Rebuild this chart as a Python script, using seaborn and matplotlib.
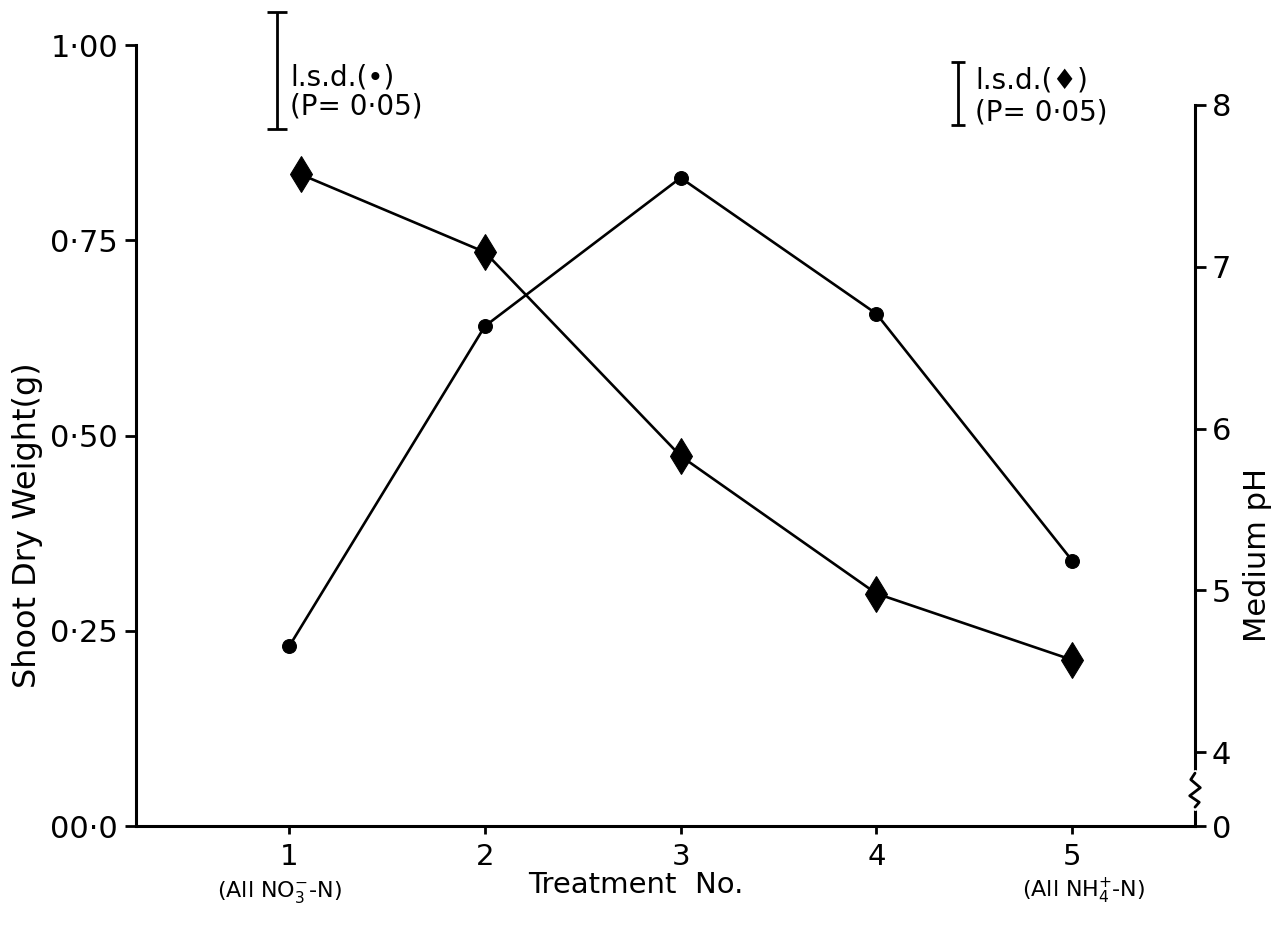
import matplotlib
matplotlib.use("Agg")
import matplotlib.pyplot as plt
import matplotlib.transforms as mtransforms
import seaborn as sns
import pandas as pd

# Treatment numbers and measured responses
treatments = [1, 2, 3, 4, 5]
shoot_weight = [0.23, 0.64, 0.83, 0.656, 0.34]          # g, circles, left axis
ph_treatment = [1.06, 2, 3, 4, 5]                       # diamond positions
medium_ph = [7.57, 7.09, 5.83, 4.98, 4.57]              # pH, diamonds, right axis

weight_ticks = [0, 0.25, 0.5, 0.75, 1.0]
weight_ticklabels = ["00·0", "0·25", "0·50", "0·75", "1·00"]
ph_ticks = [4, 5, 6, 7, 8]
ph_ticklabels = ["4", "5", "6", "7", "8"]

# Least significant differences (P = 0.05)
lsd_weight = 0.15
lsd_ph = 0.39

sns.set_theme(style="white")
plt.rcParams["font.family"] = ["DejaVu Sans"]
plt.rcParams["mathtext.default"] = "regular"

fig = plt.figure(figsize=(12.8, 9.46), dpi=100)
fig.patch.set_facecolor("white")
ax = fig.add_axes([0.1063, 0.1268, 0.8273, 0.8256])
ax2 = ax.twinx()

weight_df = pd.DataFrame({"treatment": treatments, "weight": shoot_weight})
ph_df = pd.DataFrame({"treatment": ph_treatment, "ph": medium_ph})

sns.lineplot(data=weight_df, x="treatment", y="weight", ax=ax, color="black",
             linewidth=1.9, marker="o", markersize=10, markeredgecolor="black")
sns.lineplot(data=ph_df, x="treatment", y="ph", ax=ax2, color="black",
             linewidth=1.9, marker="d", markersize=18, markeredgecolor="black")

ax.set_xlim(0.218, 5.628)
ax.set_ylim(0, 1.0)
ph_bottom = 3.543
ax2.set_ylim(ph_bottom, 8.37)

# Spines
for a in (ax, ax2):
    a.set_facecolor("none")
    a.spines["top"].set_visible(False)
ax.spines["right"].set_visible(False)
ax2.spines["left"].set_visible(False)
ax2.spines["bottom"].set_visible(False)
for sp in (ax.spines["left"], ax.spines["bottom"], ax2.spines["right"]):
    sp.set_linewidth(2.2)
    sp.set_color("black")
ax.spines["left"].set_bounds(0, 1.0)
ax2.spines["right"].set_bounds(ph_bottom, 8)

# Ticks
ax.set_xticks(treatments)
ax.set_xticklabels([str(t) for t in treatments], fontsize=21)
ax.set_yticks(weight_ticks)
ax.set_yticklabels(weight_ticklabels, fontsize=22)
ax.tick_params(axis="x", bottom=True, direction="out", length=6, width=2, pad=6,
               colors="black")
ax.tick_params(axis="y", left=True, direction="out", length=8, width=2, pad=5,
               colors="black")

ax2.set_yticks([ph_bottom] + ph_ticks)
ax2.set_yticklabels(["0"] + ph_ticklabels, fontsize=22)
ax2.tick_params(axis="y", right=True, direction="out", length=8, width=2, pad=4,
                colors="black")

# Axis break on the pH scale
brk = mtransforms.blended_transform_factory(ax2.transAxes, ax2.transData)
ax2.plot([1, 1], [3.66, 3.87], transform=brk, color="white", linewidth=5,
         clip_on=False, zorder=5)
ax2.plot([1, 0.996, 1.005, 0.995, 1.004, 1],
         [3.87, 3.83, 3.78, 3.73, 3.69, 3.66],
         transform=brk, color="black", linewidth=2, clip_on=False, zorder=6)

# Axis labels
ax.set_ylabel("Shoot Dry Weight(g)", fontsize=23, color="black")
ax.yaxis.set_label_coords(-0.088, 0.385)
ax.set_xlabel("Treatment  No.", fontsize=21, color="black")
ax.xaxis.set_label_coords(0.472, -0.058)
ax2.set_ylabel("Medium pH", fontsize=22, color="black", rotation=90)
ax2.yaxis.set_label_coords(1.045, 0.347)

# Nitrogen source notes below the end treatments
note = mtransforms.blended_transform_factory(ax.transData, ax.transAxes)
ax.text(0.95, -0.084, r"(All NO$_3^{-}$-N)", transform=note, ha="center",
        va="center", fontsize=16, color="black")
ax.text(5.06, -0.084, r"(All NH$_4^{+}$-N)", transform=note, ha="center",
        va="center", fontsize=16, color="black")

# l.s.d. bars
eb1 = ax.errorbar(0.939, 0.967, yerr=lsd_weight / 2, fmt="none", ecolor="black",
                  elinewidth=2, capsize=7, capthick=2)
eb2 = ax2.errorbar(4.418, 8.07, yerr=lsd_ph / 2, fmt="none", ecolor="black",
                   elinewidth=2, capsize=5, capthick=2)
for eb in (eb1, eb2):
    for art in list(eb.lines[1]) + list(eb.lines[2]):
        art.set_clip_on(False)

ax.text(1.005, 0.958, "l.s.d.(•)", fontsize=20, ha="left", va="center",
        color="black", clip_on=False)
ax.text(1.005, 0.921, "(P= 0·05)", fontsize=20, ha="left", va="center",
        color="black", clip_on=False)
ax2.text(4.505, 8.15, "l.s.d.(♦)", fontsize=20, ha="left", va="center",
         color="black", clip_on=False)
ax2.text(4.505, 7.95, "(P= 0·05)", fontsize=20, ha="left", va="center",
         color="black", clip_on=False)

fig.savefig("out.png", dpi=100, facecolor="white")
